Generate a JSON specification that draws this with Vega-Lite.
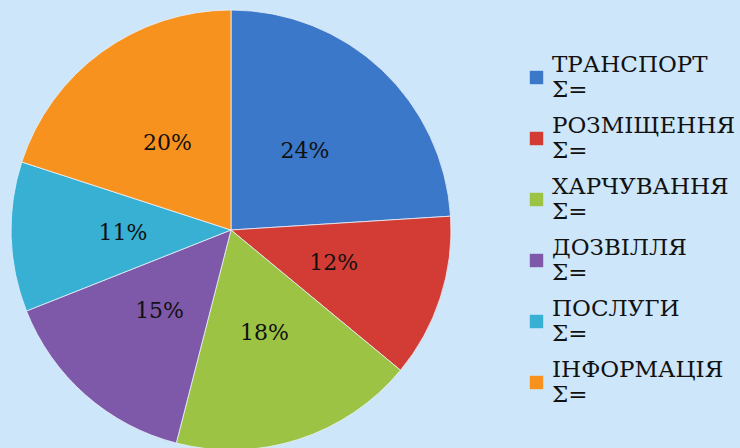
{
  "$schema": "https://vega.github.io/schema/vega-lite/v6.json",
  "width": 462,
  "height": 460,
  "padding": {"left": 0, "top": 0, "right": 60, "bottom": 0},
  "autosize": {"type": "pad"},
  "background": "#CDE6FA",
  "config": {
    "view": {"stroke": null},
    "font": "DejaVu Serif"
  },
  "data": {
    "values": [
      {"category": "ТРАНСПОРТ", "share": 24, "order": 1, "label": "24%"},
      {"category": "РОЗМІЩЕННЯ", "share": 12, "order": 2, "label": "12%"},
      {"category": "ХАРЧУВАННЯ", "share": 18, "order": 3, "label": "18%"},
      {"category": "ДОЗВІЛЛЯ", "share": 15, "order": 4, "label": "15%"},
      {"category": "ПОСЛУГИ", "share": 11, "order": 5, "label": "11%"},
      {"category": "ІНФОРМАЦІЯ", "share": 20, "order": 6, "label": "20%"}
    ]
  },
  "encoding": {
    "theta": {"field": "share", "type": "quantitative", "stack": true},
    "order": {"field": "order", "type": "quantitative"}
  },
  "layer": [
    {
      "mark": {"type": "arc", "outerRadius": 220, "stroke": "#E8F1FA", "strokeWidth": 0.8},
      "encoding": {
        "color": {
          "field": "category",
          "type": "nominal",
          "sort": ["ТРАНСПОРТ", "РОЗМІЩЕННЯ", "ХАРЧУВАННЯ", "ДОЗВІЛЛЯ", "ПОСЛУГИ", "ІНФОРМАЦІЯ"],
          "scale": {
            "domain": ["ТРАНСПОРТ", "РОЗМІЩЕННЯ", "ХАРЧУВАННЯ", "ДОЗВІЛЛЯ", "ПОСЛУГИ", "ІНФОРМАЦІЯ"],
            "range": ["#3B78C9", "#D23C35", "#9DC344", "#7E58A9", "#37B0D4", "#F8921F"]
          },
          "legend": {
            "title": null,
            "orient": "none",
            "legendX": 525,
            "legendY": 66,
            "symbolType": "square",
            "symbolSize": 180,
            "symbolStrokeWidth": 0,
            "symbolOpacity": 1,
            "labelFont": "DejaVu Serif",
            "labelFontSize": 23,
            "labelColor": "#111111",
            "labelLineHeight": 26,
            "labelBaseline": "line-bottom",
            "labelLimit": 300,
            "labelOffset": 4,
            "rowPadding": 12,
            "labelExpr": "[datum.label, 'Σ=']"
          }
        }
      }
    },
    {
      "mark": {"type": "text", "radius": 108, "font": "DejaVu Serif", "fontSize": 22, "color": "#111111"},
      "encoding": {
        "text": {"field": "label", "type": "nominal"}
      }
    }
  ]
}
